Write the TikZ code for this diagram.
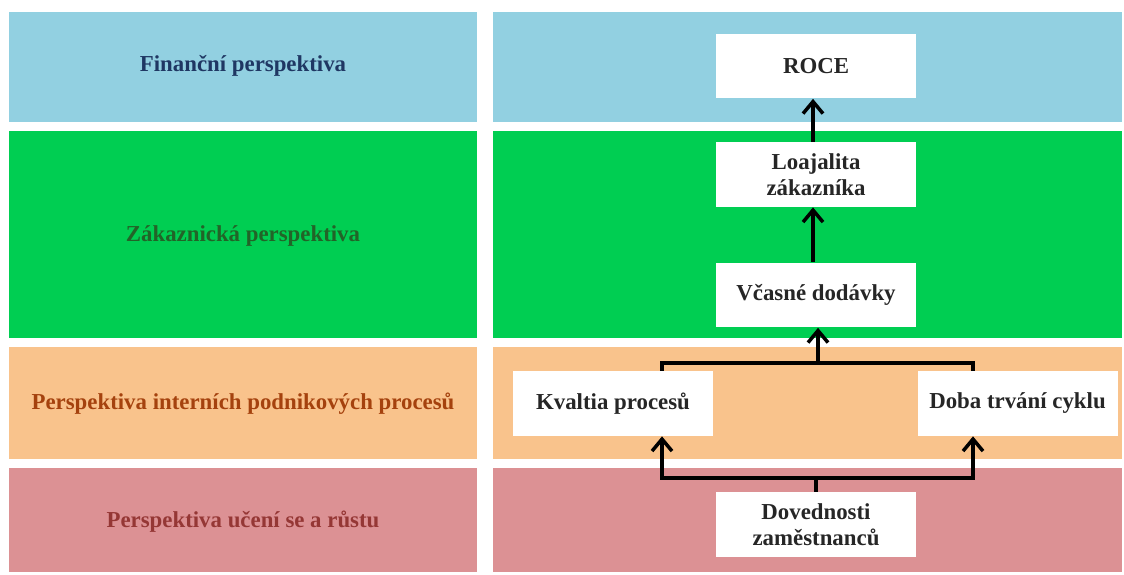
\documentclass[tikz,border=0pt]{standalone}
\usepackage{fontspec}
\setmainfont{Liberation Serif}
\usetikzlibrary{arrows.meta,positioning}
\definecolor{finblue}{RGB}{146,208,225}
\definecolor{zakgreen}{RGB}{0,206,82}
\definecolor{procorange}{RGB}{249,195,140}
\definecolor{rustred}{RGB}{220,145,148}
\definecolor{fintext}{RGB}{31,55,99}
\definecolor{zaktext}{RGB}{34,100,40}
\definecolor{proctext}{RGB}{165,66,14}
\definecolor{rusttext}{RGB}{149,55,53}
\newcommand{\boxfont}{\fontsize{13}{14.5}\selectfont\bfseries}

\begin{document}
\begin{tikzpicture}[x=0.02cm,y=-0.02cm,
		perspective/.style={font=\boxfont,align=center},
		measure/.style={fill=white,minimum width=4cm,minimum height=1.3cm,inner sep=0pt,font=\boxfont,align=center,text=black!85},
		link/.style={line width=2pt,-{Straight Barb[length=2.4mm,width=4mm,line width=2pt]}},
		fork/.style={line width=2pt}]
			\useasboundingbox (0,0) rectangle (1124,574);
			\fill[finblue] (9,12) rectangle (477,122);
			\fill[finblue] (493,12) rectangle (1122,122);
			\fill[zakgreen] (9,131) rectangle (477,338);
			\fill[zakgreen] (493,131) rectangle (1122,338);
			\fill[procorange] (9,347) rectangle (477,459);
			\fill[procorange] (493,347) rectangle (1122,459);
			\fill[rustred] (9,468) rectangle (477,572);
			\fill[rustred] (493,468) rectangle (1122,572);
				\node[perspective,text=fintext] (fin) at (243,66) {Finanční perspektiva};
				\node[perspective,text=zaktext] (zak) at (243,236) {Zákaznická perspektiva};
				\node[perspective,text=proctext] (proc) at (243,404) {Perspektiva interních podnikových procesů};
				\node[perspective,text=rusttext] (rust) at (243,522) {Perspektiva učení se a růstu};
				\node[measure] (roce) at (816,66) {ROCE};
				\node[measure] (loaj) at (816,174.5) {Loajalita\\zákazníka};
				\node[measure] (vcas) at (816,295) {Včasné dodávky};
				\node[measure] (kval) at (613,403.5) {Kvaltia procesů};
				\node[measure] (doba) at (1017.5,403.5) {Doba trvání cyklu};
				\node[measure] (dov) at (816,524.5) {Dovednosti\\zaměstnanců};
			\coordinate (topL) at (662,363);
			\coordinate (topR) at (973,363);
			\coordinate (topM) at (818,363);
			\coordinate (botL) at (662,478);
			\coordinate (botR) at (973,478);
			\draw[link] (loaj.north -| 813,0) -- (roce.south -| 813,0);
			\draw[link] (vcas.north -| 813,0) -- (loaj.south -| 813,0);
			\draw[fork] (kval.north -| topL) -- (topL) -- (topR) -- (doba.north -| topR);
			\draw[link] (topM) -- (vcas.south -| topM);
			\draw[link] (dov.north) |- (botL) -- (kval.south -| botL);
			\draw[link] (dov.north) |- (botR) -- (doba.south -| botR);
		\end{tikzpicture}
\end{document}
